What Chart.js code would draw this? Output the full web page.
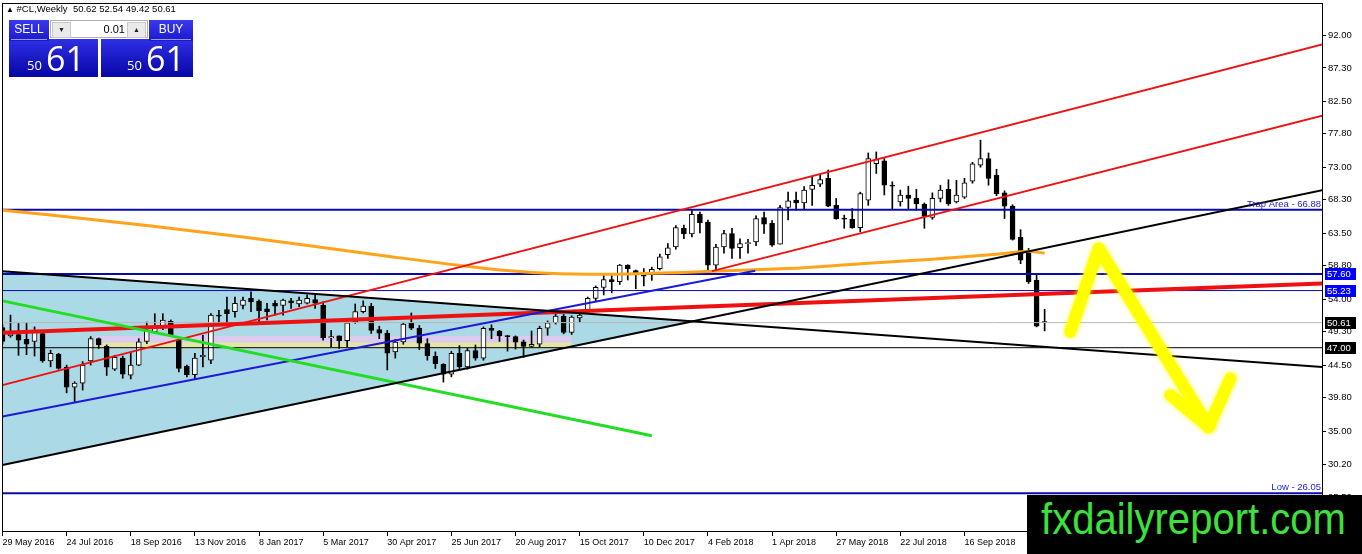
<!DOCTYPE html>
<html>
<head>
<meta charset="utf-8">
<script src="https://cdn.jsdelivr.net/npm/chart.js@4.4.1/dist/chart.umd.min.js"></script>
<style>
html, body { margin: 0; padding: 0; background: #fff; }
#wrap { position: relative; width: 1362px; height: 554px; overflow: hidden; font-family: "Liberation Sans", Arial, sans-serif; }
#chart { position: absolute; left: 0; top: 0; }
#head { position: absolute; left: 6px; top: 3px; font-size: 9.5px; color: #000; white-space: pre; }
#head .tri { font-size: 8px; }
.blk { position: absolute; background: linear-gradient(#2f2fe6, #0606a6); color: #fff; }
.btn { position: absolute; background: linear-gradient(#3a3aec, #1a1acc); color: #fff; font-size: 12px; text-align: center; line-height: 19px; }
.btn:after { content: ""; position: absolute; left: 2px; right: 2px; bottom: 1px; height: 1px; background: #9a9af0; }
.spin { position: absolute; left: 50px; top: 20px; width: 98px; height: 18px; background: #fff; border: 1px solid #b0b0b0; box-sizing: border-box; font-size: 11px; }
.sb { position: absolute; top: 1px; width: 17px; height: 14px; background: #eaeaea; border: 1px solid #c8c8c8; font-size: 7px; text-align: center; line-height: 14px; color: #222; }
.small { position: absolute; font-size: 13px; font-family: "Open Sans", sans-serif; }
.big { position: absolute; font-size: 34px; font-family: "Open Sans", sans-serif; line-height: 34px; }
#logo { position: absolute; left: 1027px; top: 495px; width: 335px; height: 59px; background: #000; overflow: hidden; }
#logo span { position: absolute; left: 14px; top: 1px; font-size: 45px; line-height: 45px; color: #3ee03e; transform: scaleX(0.89); transform-origin: 0 0; white-space: nowrap; }
</style>
</head>
<body>
<div id="wrap">
  <canvas id="chart" width="1362" height="554"></canvas>
  <div id="head"><span class="tri">&#9650;</span> #CL,Weekly  50.62 52.54 49.42 50.61</div>
  <div class="blk" style="left:9px;top:39px;width:89px;height:38px;">
    <span class="small" style="left:18px;top:17px;">50</span>
    <span class="big" style="left:37px;top:2px;">61</span>
  </div>
  <div class="blk" style="left:101px;top:39px;width:92px;height:38px;">
    <span class="small" style="left:26px;top:17px;">50</span>
    <span class="big" style="left:45px;top:2px;">61</span>
  </div>
  <div class="btn" style="left:9px;top:20px;width:40px;height:21px;">SELL</div>
  <div class="btn" style="left:149px;top:20px;width:44px;height:21px;">BUY</div>
  <div class="spin">
    <div class="sb" style="left:1px;">&#9660;</div>
    <span style="position:absolute;right:22px;top:2px;">0.01</span>
    <div class="sb" style="right:1px;">&#9650;</div>
  </div>
  <div id="logo"><span>fxdailyreport.com</span></div>
</div>
<script>
// weekly candles, week 0 = 29 May 2016
var open  = [49.9,48.7,48.9,48.2,47.9,49.05,45.1,46.1,44.2,41.3,41.9,45.1,48.3,47.2,43.9,45.5,43.05,44.5,47.9,49.3,
             50.0,50.8,48.1,44.35,43.1,45.7,45.2,51.7,52.5,52.2,53.1,54.1,53.7,52.6,53.4,53.1,53.75,53.3,53.4,53.95,
             53.1,48.4,48.7,48.0,50.7,52.2,53.0,49.6,49.1,46.4,47.85,50.6,49.8,47.6,45.8,44.6,43.2,46.2,44.25,46.6,
             45.5,49.8,49.4,48.7,48.6,47.85,47.2,47.5,49.8,50.6,51.55,49.2,51.3,52.3,54.1,55.7,56.8,56.5,58.9,58.1,
             57.6,57.7,58.4,60.4,61.5,64.2,63.4,66.2,65.1,58.9,61.5,63.45,61.4,62.0,62.25,65.75,64.9,61.9,67.2,68.25,
             67.85,69.8,70.55,71.4,67.5,65.6,65.5,64.3,68.25,73.5,73.9,70.4,68.0,68.97,68.5,67.7,65.75,68.5,69.8,68.0,
             68.7,71.0,73.3,74.25,71.85,69.3,67.4,62.9,60.8,56.73,50.62];
var high  = [50.3,51.7,50.5,50.6,50.0,49.3,46.65,46.2,44.5,42.1,45.0,48.6,48.4,47.4,45.9,45.8,46.3,48.3,50.7,51.9,
             51.9,51.0,48.2,44.5,46.2,48.8,51.9,52.4,54.3,54.3,54.3,55.05,53.9,53.4,53.8,54.0,54.1,54.3,54.6,54.6,
             53.6,49.5,48.7,50.7,53.3,53.75,53.4,50.1,49.5,48.2,50.6,52.0,50.2,48.3,46.4,44.7,46.5,47.3,46.9,47.4,
             50.0,50.3,49.5,48.8,48.7,48.1,49.4,50.1,50.85,52.1,51.8,51.6,52.2,54.3,55.9,57.7,57.6,59.0,58.95,58.2,
             58.4,58.6,60.5,62.0,64.6,64.65,66.9,66.55,65.4,61.9,63.9,64.2,62.7,62.6,66.0,66.55,65.3,67.5,69.4,69.4,
             70.2,71.6,72.0,72.6,68.5,66.1,67.05,69.4,75.05,75.2,74.25,70.9,69.7,70.26,69.8,67.85,69.3,70.4,71.2,71.1,
             71.4,73.7,76.9,75.05,72.7,69.6,67.6,64.0,61.3,57.45,52.54];
var low   = [47.5,48.5,45.9,46.0,45.8,44.9,44.25,43.9,40.5,39.1,40.9,44.5,46.9,43.0,43.7,42.6,42.5,44.4,47.6,49.05,
             49.6,48.6,43.5,42.8,42.4,44.25,44.7,50.5,50.5,51.4,52.6,52.2,50.7,51.0,51.7,51.7,52.65,52.9,53.3,52.65,
             48.1,47.1,46.9,47.1,50.5,52.0,49.05,48.3,43.8,45.5,47.5,49.6,46.7,45.2,44.0,42.05,42.8,44.0,43.9,45.2,
             45.2,48.3,47.9,46.5,46.8,45.6,47.1,47.1,48.8,50.4,49.0,48.9,50.7,51.9,53.7,54.6,54.9,56.1,56.75,55.5,
             55.9,56.7,58.2,59.85,61.2,62.7,62.95,63.55,58.2,58.2,60.6,59.85,59.85,60.6,61.7,63.45,61.6,61.9,65.4,66.8,
             66.9,67.5,70.2,67.3,65.5,64.2,64.2,63.7,67.5,72.1,69.0,66.9,67.4,66.9,66.8,64.2,65.5,68.0,67.5,67.85,
             68.5,70.7,73.0,70.4,68.9,65.6,62.5,59.1,56.25,50.0,49.42];
var close = [47.9,49.0,48.1,47.5,49.3,45.1,46.2,44.0,41.3,41.9,44.5,48.3,47.4,44.2,45.6,43.2,44.5,47.85,49.5,50.0,
             50.97,48.8,44.0,43.1,45.5,45.9,51.7,51.55,51.9,53.4,53.85,53.6,52.35,52.2,53.0,53.85,53.45,53.85,54.1,53.4,
             48.4,48.6,48.0,50.6,52.2,53.0,49.5,49.1,46.2,47.8,50.4,49.8,47.66,45.8,44.7,43.2,46.2,44.25,46.6,45.5,
             49.8,49.5,48.7,48.6,47.8,47.2,47.5,49.8,50.6,51.55,49.2,51.4,51.7,54.1,55.7,56.8,56.5,58.9,58.4,57.6,
             57.3,58.3,60.1,61.4,64.3,63.4,66.2,65.0,58.9,61.5,63.45,61.3,62.0,62.15,65.6,64.8,61.77,67.2,68.15,67.85,
             69.7,70.4,71.2,67.4,65.6,65.5,64.3,69.2,74.25,74.1,70.4,70.26,68.97,68.5,67.7,65.9,68.5,69.7,67.7,69.0,
             70.74,73.5,74.25,71.4,69.2,67.4,62.6,59.6,56.5,50.1,50.61];

// axis labels
var dateTickWeeks = [0, 8, 16, 24, 32, 40, 48, 56, 64, 72, 80, 88, 96, 104, 112, 120];
var dateLabels = ['29 May 2016', '24 Jul 2016', '18 Sep 2016', '13 Nov 2016', '8 Jan 2017', '5 Mar 2017',
                  '30 Apr 2017', '25 Jun 2017', '20 Aug 2017', '15 Oct 2017', '10 Dec 2017', '4 Feb 2018',
                  '1 Apr 2018', '27 May 2018', '22 Jul 2018', '16 Sep 2018'];
var priceTicks = [92.00, 87.30, 82.50, 77.80, 73.00, 68.30, 63.50, 58.80, 54.00, 49.30, 44.50, 39.80, 35.00, 30.20, 25.50];

// moving average (orange), read at sample weeks
var maWeeks  = [0, 12, 24, 36, 48, 60, 68, 76, 84, 92, 100, 108, 116, 124, 128, 130];
var maValues = [66.81, 65.37, 63.78, 62.06, 60.18, 58.46, 57.74, 57.59, 57.81, 58.17, 58.53, 59.18, 59.75, 60.47, 60.90, 60.62];

// drawn objects: [week, price] end points
var redUpper   = [[0, 41.61], [164.7, 90.71]];
var redLower   = [[88.5, 58.03], [164.7, 80.45]];
var redFlat    = [[0, 49.14], [164.7, 56.25]];
var blueRise   = [[0, 37.08], [93.9, 58.08]];
var greenFall  = [[0, 53.75], [81.0, 34.32]];
var blackFall  = [[0, 58.03], [164.7, 44.21]];
var blackRise  = [[0, 30.10], [164.7, 69.69]];
var triangleTop    = [[0, 58.03], [87.0, 50.85]];
var triangleBottom = [[0, 30.10], [87.0, 50.85]];
var bandWeeks  = [11.5, 71.0];
var bandLevels = [48.67, 47.80, 46.94];
var arrowPath  = [[133.2, 49.29], [136.74, 61.29], [150.47, 35.61]];
var arrowHead  = [[145.69, 40.17], [150.47, 35.61], [153.18, 42.58]];

var trapLevel = 66.88, level1 = 57.60, level2 = 55.23, lastPrice = 50.61, level3 = 47.00, lowLevel = 26.05;

var X_MIN = -0.06, X_MAX = 164.6;
var FONT = '"Liberation Sans", Arial, sans-serif';

function pts(arr) { return arr.map(function (p) { return { x: p[0], y: p[1] }; }); }
function hline(v) { return [{ x: X_MIN - 1, y: v }, { x: X_MAX + 1, y: v }]; }
function lineDs(data, color, width, order, extra) {
    return Object.assign({
        type: 'line', data: data, borderColor: color, borderWidth: width,
        pointRadius: 0, fill: false, tension: 0, order: order, clip: 0
    }, extra || {});
}

var bodies = open.map(function (o, i) { return { x: i, y: [o, close[i]] }; });
var wicks = open.map(function (o, i) { return { x: i, y: [low[i], high[i]] }; });

var datasets = [
    // background triangle
    lineDs(pts(triangleTop), 'rgba(0,0,0,0)', 1, 100, { fill: '+1', backgroundColor: '#acd9e6' }),
    lineDs(pts(triangleBottom), 'rgba(0,0,0,0)', 1, 100),
    // pink / yellow bands
    lineDs([{ x: bandWeeks[0], y: bandLevels[0] }, { x: bandWeeks[1], y: bandLevels[0] }], 'rgba(0,0,0,0)', 1, 90, { fill: '+1', backgroundColor: '#dccbee' }),
    lineDs([{ x: bandWeeks[0], y: bandLevels[1] }, { x: bandWeeks[1], y: bandLevels[1] }], 'rgba(0,0,0,0)', 1, 90, { fill: '+1', backgroundColor: '#e4e4a6' }),
    lineDs([{ x: bandWeeks[0], y: bandLevels[2] }, { x: bandWeeks[1], y: bandLevels[2] }], 'rgba(0,0,0,0)', 1, 90),
    // candles
    {
        type: 'bar', data: wicks, backgroundColor: '#000', borderWidth: 0,
        barThickness: 1, grouped: false, order: 50
    },
    {
        type: 'bar', data: bodies,
        backgroundColor: function (c) { var i = c.dataIndex; return close[i] >= open[i] ? '#fff' : '#000'; },
        borderColor: '#000', borderWidth: 1, borderSkipped: false,
        barThickness: 5, grouped: false, minBarLength: 1, order: 40
    },
    // horizontal levels
    lineDs(hline(lastPrice), '#b8b8b8', 1, 30),
    lineDs(hline(level3), '#000', 1, 30),
    lineDs(hline(trapLevel), '#0a0aa8', 2, 20),
    lineDs(hline(level1), '#0a0aa8', 2, 20),
    lineDs(hline(level2), '#0a0aa8', 1, 20),
    lineDs(hline(lowLevel), '#0a0aa8', 2, 20),
    // moving average
    lineDs(maWeeks.map(function (w, i) { return { x: w, y: maValues[i] }; }), '#ffa31a', 3, 15, { tension: 0.3 }),
    // trend lines
    lineDs(pts(blackFall), '#000', 2, 10),
    lineDs(pts(blackRise), '#000', 2, 10),
    lineDs(pts(greenFall), '#22dd22', 3, 10),
    lineDs(pts(blueRise), '#1a1ad8', 2, 10),
    lineDs(pts(redFlat), '#ee1111', 4, 10),
    lineDs(pts(redUpper), '#ee1111', 2, 10),
    lineDs(pts(redLower), '#ee1111', 2, 10),
    // yellow arrow
    lineDs(pts(arrowPath), '#ffff00', 12, 0, { borderCapStyle: 'round', borderJoinStyle: 'round', glow: true }),
    lineDs(pts(arrowHead), '#ffff00', 12, 0, { borderCapStyle: 'round', borderJoinStyle: 'round', glow: true })
];

var tags = [
    { v: level1, bg: '#0000ff' },
    { v: level2, bg: '#0000ff' },
    { v: lastPrice, bg: '#000' },
    { v: level3, bg: '#000' }
];

var glowPlugin = {
    id: 'glow',
    beforeDatasetDraw: function (chart, args) {
        if (chart.data.datasets[args.index].glow) {
            chart.ctx.save();
            chart.ctx.shadowColor = 'rgba(255,255,0,0.9)';
            chart.ctx.shadowBlur = 5;
        }
    },
    afterDatasetDraw: function (chart, args) {
        if (chart.data.datasets[args.index].glow) chart.ctx.restore();
    }
};

var overlayPlugin = {
    id: 'overlay',
    afterDraw: function (chart) {
        var ctx = chart.ctx, a = chart.chartArea, y = chart.scales.y;
        ctx.save();
        ctx.strokeStyle = '#000';
        ctx.lineWidth = 1;
        ctx.strokeRect(Math.round(a.left) + 0.5, Math.round(a.top) + 0.5, Math.round(a.right - a.left), Math.round(a.bottom - a.top));

        ctx.font = '9.5px ' + FONT;
        ctx.fillStyle = '#2222cc';
        ctx.textAlign = 'right';
        ctx.textBaseline = 'bottom';
        ctx.fillText('Trap Area - ' + trapLevel.toFixed(2), a.right - 1, y.getPixelForValue(trapLevel) - 1);
        ctx.fillText('Low - ' + lowLevel.toFixed(2), a.right - 1, y.getPixelForValue(lowLevel) - 1);

        ctx.textAlign = 'left';
        ctx.textBaseline = 'middle';
        tags.forEach(function (t) {
            var py = Math.round(y.getPixelForValue(t.v));
            ctx.fillStyle = t.bg;
            ctx.fillRect(a.right + 3, py - 6, 31, 12);
            ctx.fillStyle = '#fff';
            ctx.fillText(t.v.toFixed(2), a.right + 5, py + 0.5);
        });
        ctx.restore();
    }
};

var ctx = document.getElementById('chart').getContext('2d');
var chart = new Chart(ctx, {
    type: 'bar',
    data: { datasets: datasets },
    options: {
        responsive: false,
        devicePixelRatio: 1,
        animation: false,
        events: [],
        layout: { padding: { left: 2, top: 3, right: 0, bottom: 0 } },
        plugins: { legend: { display: false }, tooltip: { enabled: false } },
        scales: {
            x: {
                type: 'linear', position: 'bottom', min: X_MIN, max: X_MAX, offset: false,
                afterBuildTicks: function (s) { s.ticks = dateTickWeeks.map(function (v) { return { value: v }; }); },
                afterFit: function (s) { s.height = 23; s.paddingLeft = 0; s.paddingRight = 0; },
                ticks: {
                    callback: function (v) { return dateLabels[dateTickWeeks.indexOf(v)]; },
                    align: 'start', autoSkip: false, maxRotation: 0,
                    font: { family: FONT, size: 9 }, color: '#000', padding: 1
                },
                grid: { drawOnChartArea: false, offset: false, tickLength: 5, color: '#000' },
                border: { color: '#000' }
            },
            y: {
                type: 'linear', position: 'right', min: 20.6, max: 96.65, beginAtZero: false,
                afterBuildTicks: function (s) { s.ticks = priceTicks.map(function (v) { return { value: v }; }); },
                afterFit: function (s) { s.width = 40; s.paddingTop = 0; s.paddingBottom = 0; },
                ticks: {
                    callback: function (v) { return v.toFixed(2); },
                    autoSkip: false,
                    font: { family: FONT, size: 9.5 }, color: '#000', padding: 2
                },
                grid: { drawOnChartArea: false, tickLength: 4, color: '#000' },
                border: { color: '#000' }
            }
        }
    },
    plugins: [glowPlugin, overlayPlugin]
});
</script>
</body>
</html>
